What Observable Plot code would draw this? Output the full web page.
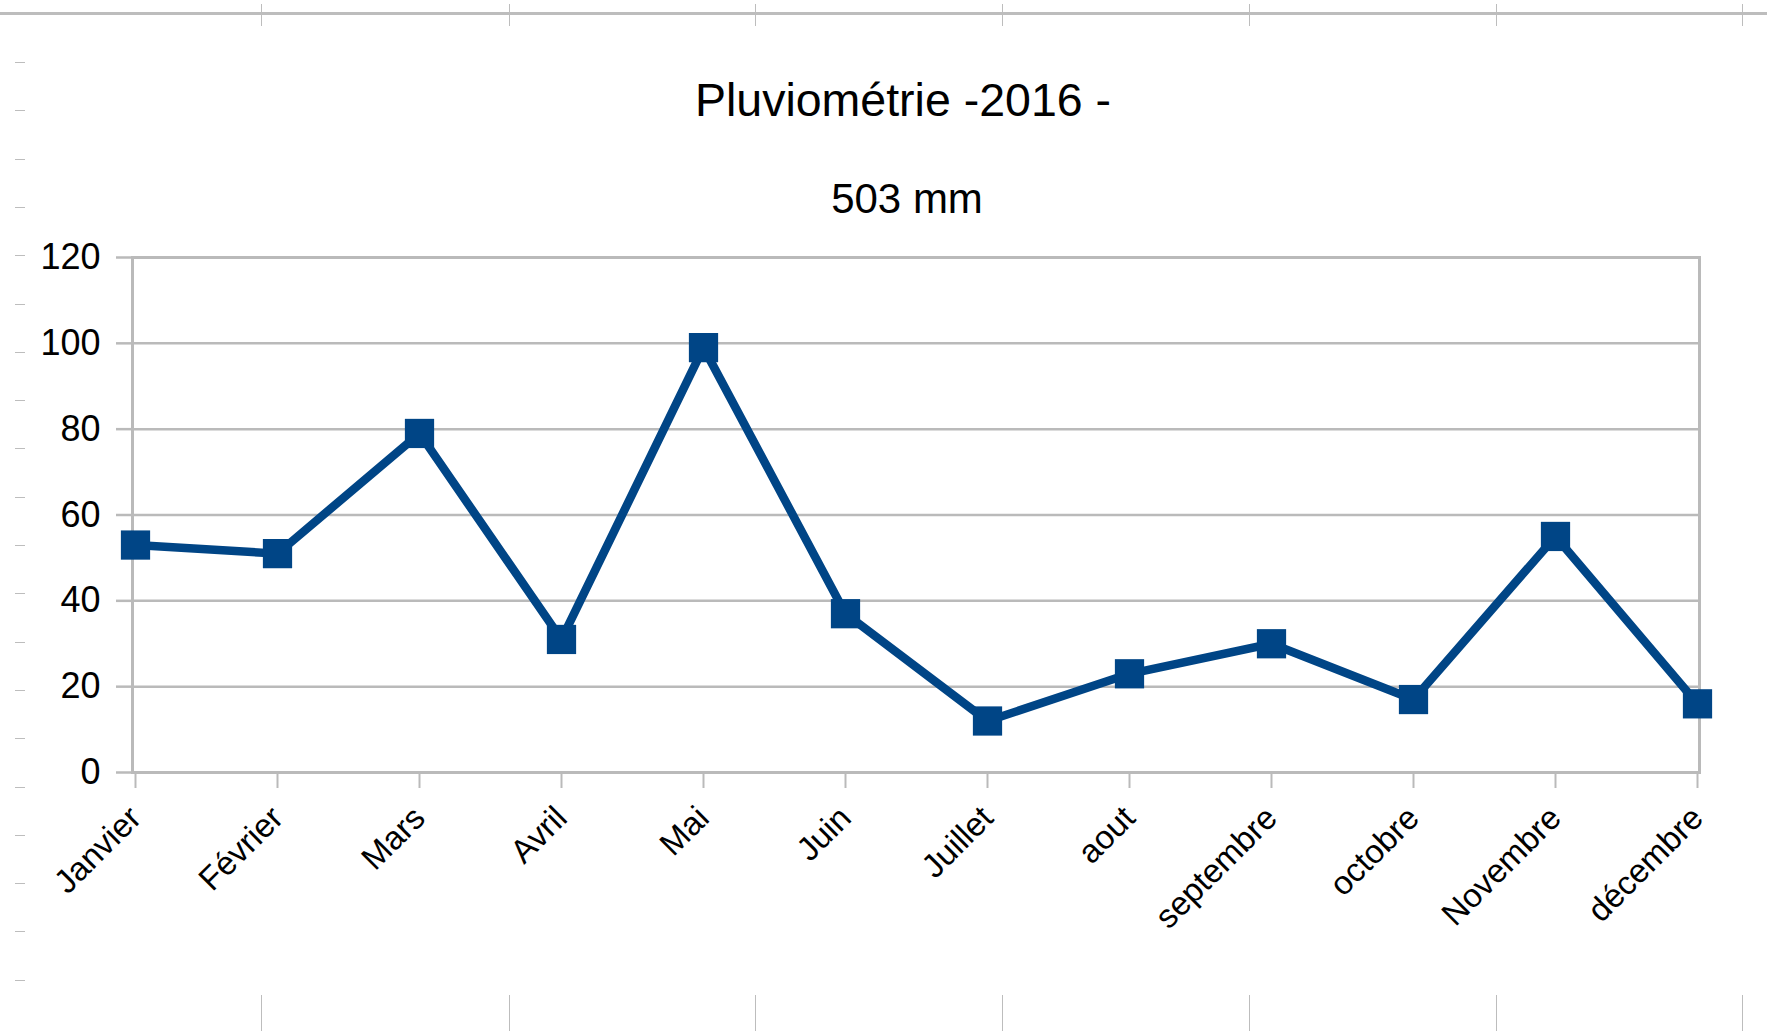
<!DOCTYPE html>
<html><head><meta charset="utf-8">
<script src="https://cdn.jsdelivr.net/npm/d3@7"></script>
<script src="https://cdn.jsdelivr.net/npm/@observablehq/plot@0.6"></script>
<style>
body{margin:0;background:#fff;font-family:"Liberation Sans",Arial,sans-serif;}
#wrap{position:relative;width:1767px;height:1031px;overflow:hidden;background:#fff;}
#deco{position:absolute;left:0;top:0;width:1767px;height:1031px;z-index:0;}
#header{position:relative;height:215px;z-index:1;}
#chart{position:relative;z-index:1;}
.t{position:absolute;left:20px;width:1766px;text-align:center;color:#000;white-space:pre;}
#title{top:75px;font-size:46.5px;line-height:50px;}
#sub{top:178px;font-size:42px;line-height:42px;left:24px;}
.d{position:absolute;background:#bdbdbd;}
</style></head><body>
<div id="wrap">
<div id="deco"></div>
<div id="header"><div class="t" id="title"></div><div class="t" id="sub"></div></div>
<div id="chart"></div>
</div>
<script>
const title = "Pluviométrie -2016 -";
const subtitle = "503 mm";
const months = ["Janvier","Février","Mars","Avril","Mai","Juin","Juillet","aout","septembre","octobre","Novembre","décembre"];
const rain = [53, 51, 79, 31, 99, 37, 12, 23, 30, 17, 55, 16];
const yTicks = [0, 20, 40, 60, 80, 100, 120];

document.getElementById("title").textContent = title;
document.getElementById("sub").textContent = subtitle;

// spreadsheet background decoration (column / row markers)
const deco = document.getElementById("deco");
function addDiv(l, t, w, h) { const e = document.createElement("div"); e.className = "d"; e.style.cssText = `left:${l}px;top:${t}px;width:${w}px;height:${h}px`; deco.appendChild(e); }
addDiv(0, 12, 1767, 3);
const colX = [261, 509, 755, 1002, 1249, 1496, 1742];
colX.forEach(x => { addDiv(x, 4, 1, 22); addDiv(x, 995, 1, 36); });
for (let k = 0; k < 20; k++) addDiv(15, 62 + k * 48.3, 10, 1);

const data = months.map((m, i) => ({month: m, value: rain[i]}));
const chart = Plot.plot({
  width: 1767, height: 816,
  marginLeft: 132, marginRight: 68, marginTop: 42, marginBottom: 259,
  style: {fontFamily: "'Liberation Sans', Arial, sans-serif", color: "#000", background: "transparent", overflow: "visible"},
  x: {type: "point", domain: months, padding: 0},
  y: {domain: [0, 120]},
  marks: [
    Plot.ruleY(yTicks.slice(1, -1), {stroke: "#bababa", strokeWidth: 2.5}),
    Plot.frame({stroke: "#bababa", strokeWidth: 3}),
    Plot.axisY({ticks: yTicks, tickSize: 16, tickPadding: 16, fontSize: 36, stroke: "#bababa", strokeWidth: 2.5, fill: "#000", label: null}),
    Plot.axisX({tickSize: 16, tickPadding: 24, tickRotate: -45, fontSize: 33, stroke: "#bababa", strokeWidth: 2, fill: "#000", label: null}),
    Plot.line(data, {x: "month", y: "value", stroke: "#004586", strokeWidth: 8.5}),
    Plot.dot(data, {x: "month", y: "value", symbol: "square", r: 16.5, fill: "#004586", stroke: "none"})
  ]
});
document.getElementById("chart").appendChild(chart);
</script>
</body></html>
